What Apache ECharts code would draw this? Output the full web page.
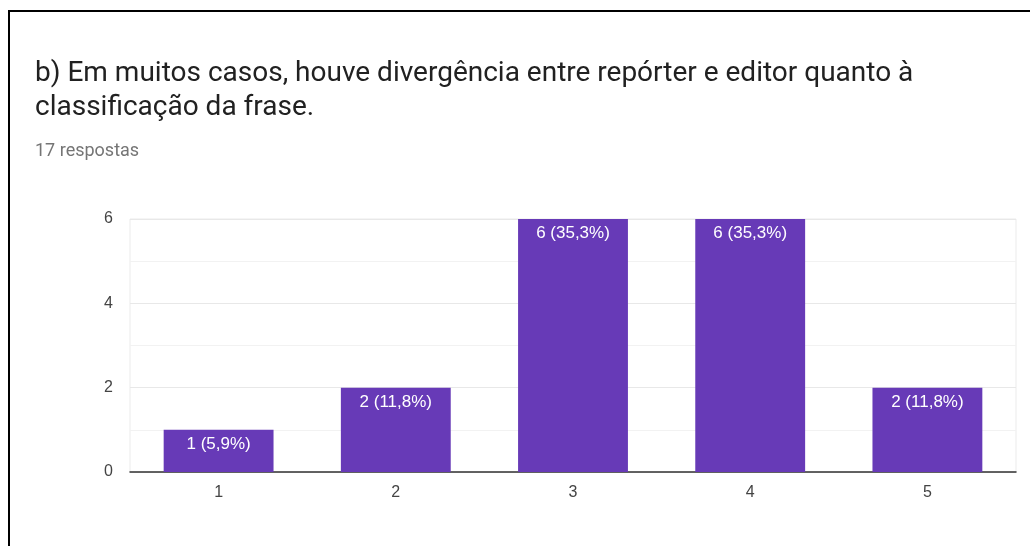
<!DOCTYPE html>
<html>
<head>
<meta charset="utf-8">
<script src="https://cdn.jsdelivr.net/npm/echarts@6/dist/echarts.min.js"></script>
<style>
  html, body { margin: 0; padding: 0; background: #fff; }
  #chart { width: 1030px; height: 546px; }
</style>
</head>
<body>
<div id="chart"></div>
<script>
// Answer scale 1..5 and how many respondents picked each
const categories = ['1', '2', '3', '4', '5'];
const counts = [1, 2, 6, 6, 2];
const percents = ['5,9%', '11,8%', '35,3%', '35,3%', '11,8%'];
const yTicks = [0, 2, 4, 6];

const titleText = 'b) Em muitos casos, houve divergência entre repórter e editor quanto à\nclassificação da frase.';
const subtitleText = '17 respostas';

const chartFont = '"Liberation Sans", Arial, sans-serif';

const chart = echarts.init(document.getElementById('chart'), null, { renderer: 'canvas' });

chart.setOption({
  backgroundColor: '#ffffff',
  animation: false,
  textStyle: { fontFamily: chartFont },
  title: {
    text: titleText,
    subtext: subtitleText,
    left: 30,
    top: 52,
    itemGap: 17,
    textStyle: { fontFamily: 'Roboto', fontSize: 28, fontWeight: 'normal', color: '#212121', lineHeight: 34 },
    subtextStyle: { fontFamily: 'Roboto', fontSize: 18, color: '#757575' }
  },
  graphic: [
    { type: 'line', shape: { x1: 8, y1: 11, x2: 1030, y2: 11 }, style: { stroke: '#000', lineWidth: 2 } },
    { type: 'line', shape: { x1: 9, y1: 10, x2: 9, y2: 546 }, style: { stroke: '#000', lineWidth: 2 } }
  ],
  grid: {
    left: 130, right: 14, top: 219, bottom: 74,
    show: true, borderColor: '#ebebeb', borderWidth: 1
  },
  xAxis: {
    type: 'category',
    data: categories,
    axisLine: { lineStyle: { color: '#333', width: 1.5 } },
    axisTick: { show: false },
    axisLabel: { color: '#444', fontSize: 16, margin: 13, fontFamily: chartFont }
  },
  yAxis: {
    type: 'value',
    min: 0, max: 6, interval: 1,
    axisLine: { show: false },
    axisTick: { show: false },
    axisLabel: {
      color: '#444', fontSize: 16, margin: 17, fontFamily: chartFont,
      formatter: v => (yTicks.indexOf(v) >= 0 ? String(v) : '')
    },
    splitLine: { lineStyle: { color: ['#e8e8e8', '#f2f2f2'] } }
  },
  series: [{
    type: 'bar',
    data: counts,
    barWidth: '62%',
    itemStyle: { color: '#673ab7' },
    label: {
      show: true,
      position: 'insideTop',
      distance: 6,
      color: '#ffffff',
      fontSize: 17,
      fontFamily: chartFont,
      formatter: p => p.value + ' (' + percents[p.dataIndex] + ')'
    }
  }]
});
</script>
</body>
</html>
